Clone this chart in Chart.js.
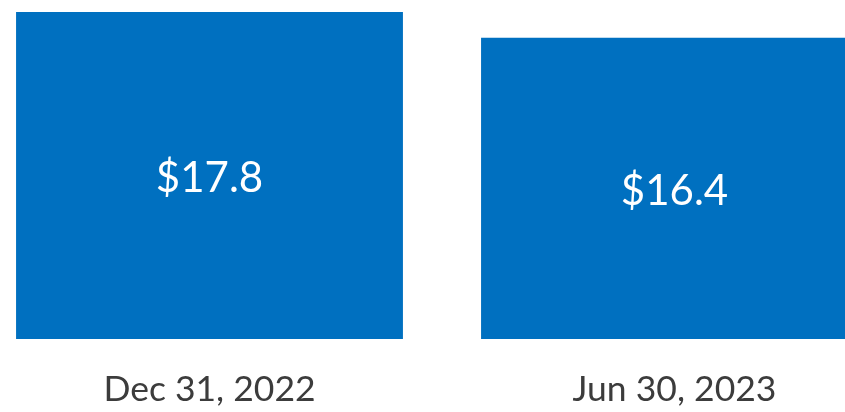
<!DOCTYPE html>
<html>
<head>
<meta charset="utf-8">
<script src="https://cdn.jsdelivr.net/npm/chart.js@4/dist/chart.umd.min.js"></script>
<style>
  html, body { margin: 0; padding: 0; background: #fff; overflow: hidden; }
  #wrap { position: absolute; left: -23px; top: 0; width: 930px; height: 412px; }
</style>
</head>
<body>
<div id="wrap"><canvas id="chart"></canvas></div>
<script>
const categories = ["Dec 31, 2022", "Jun 30, 2023"];
const values = [17.8, 16.4];
const valueLabels = ["$17.8", "$16.4"];

const barColor = "#0070C0";

// write the value in the middle of each bar
const insideLabels = {
  id: "insideLabels",
  afterDatasetsDraw(chart) {
    const ctx = chart.ctx;
    const meta = chart.getDatasetMeta(0);
    ctx.save();
    ctx.fillStyle = "#ffffff";
    ctx.font = "42px Lato";
    ctx.textAlign = "center";
    ctx.textBaseline = "middle";
    meta.data.forEach((bar, i) => {
      const midY = (bar.y + bar.base) / 2;
      ctx.fillText(valueLabels[i], bar.x, midY + 3);
    });
    ctx.restore();
  }
};

new Chart(document.getElementById("chart"), {
  type: "bar",
  data: {
    labels: categories,
    datasets: [{
      data: values,
      backgroundColor: barColor,
      borderWidth: 0,
      categoryPercentage: 0.832,
      barPercentage: 1.0
    }]
  },
  options: {
    responsive: true,
    maintainAspectRatio: false,
    animation: false,
    layout: { padding: 0 },
    plugins: {
      legend: { display: false },
      tooltip: { enabled: false }
    },
    scales: {
      x: {
        grid: { display: false, drawTicks: false },
        border: { display: false },
        ticks: {
          color: "#3c3c3c",
          font: { family: "Lato", size: 35.5 },
          padding: 29,
          maxRotation: 0
        },
        afterFit(scale) { scale.height = 73; }
      },
      y: {
        display: false,
        min: 0,
        max: 18.45
      }
    }
  },
  plugins: [insideLabels]
});
</script>
</body>
</html>
